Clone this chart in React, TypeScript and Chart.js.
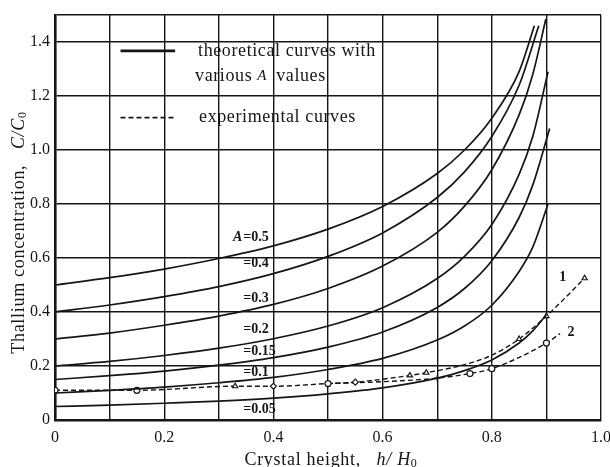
import React, { useEffect, useRef } from 'react';
import { Chart, registerables } from 'chart.js';
Chart.register(...registerables);

// ---- data ----
const theoH = [0, 0.1, 0.2, 0.3, 0.4, 0.5, 0.6, 0.7, 0.75, 0.8, 0.85];
const c05 = [0.5, 0.527, 0.559, 0.598, 0.645, 0.707, 0.791, 0.913, 1.0, 1.118, 1.29];
const c04 = [0.4, 0.426, 0.457, 0.494, 0.542, 0.606, 0.693, 0.824, 0.919, 1.05, 1.24];
const c03 = [0.3, 0.322, 0.351, 0.385, 0.428, 0.487, 0.57, 0.695, 0.792, 0.927, 1.13];
const c02 = [0.2, 0.217, 0.239, 0.266, 0.301, 0.348, 0.416, 0.524, 0.606, 0.724, 0.91];
const c015 = [0.15, 0.164, 0.181, 0.203, 0.231, 0.27, 0.326, 0.417, 0.487, 0.59, 0.75];
const c01 = [0.1, 0.11, 0.122, 0.138, 0.158, 0.187, 0.228, 0.296, 0.348, 0.425, 0.55];
const c005 = [0.05, 0.055, 0.062, 0.07, 0.081, 0.097, 0.119, 0.155, 0.183, 0.222, 0.285];

const tail05H = [0.878];
const tail05C = [1.46];
const tail04H = [0.886];
const tail04C = [1.46];
const tail03H = [0.875, 0.899];
const tail03C = [1.28, 1.485];
const tail02H = [0.875, 0.903];
const tail02C = [1.05, 1.29];
const tail015H = [0.875, 0.906];
const tail015C = [0.87, 1.08];
const tail01H = [0.875, 0.903];
const tail01C = [0.64, 0.8];
const tail005H = [0.875, 0.9];
const tail005C = [0.33, 0.39];

const curveLabels = ['=0.5', '=0.4', '=0.3', '=0.2', '=0.15', '=0.1', '=0.05'];
const curveLabelY = [0.677, 0.581, 0.452, 0.334, 0.253, 0.175, 0.039];
const curveLabelX = 0.345;

const expH1 = [0, 0.15, 0.33, 0.4, 0.5, 0.55, 0.65, 0.68, 0.75, 0.8, 0.85, 0.9, 0.97];
const expC1 = [0.11, 0.11, 0.125, 0.125, 0.135, 0.14, 0.165, 0.175, 0.205, 0.24, 0.3, 0.385, 0.525];
const expMark1 = ['circle', 'circle', 'triangle', 'rectRot', 'circle', 'rectRot', 'triangle', 'triangle', 'circle', 'circle', 'triangle', 'triangle', 'triangle'];
const expShow1 = [1, 1, 1, 1, 1, 1, 1, 1, 0, 0, 1, 1, 1];

const expH2 = [0.5, 0.6, 0.7, 0.76, 0.8, 0.9, 0.925];
const expC2 = [0.135, 0.142, 0.155, 0.172, 0.19, 0.285, 0.32];
const expMark2 = ['circle', 'circle', 'cross', 'circle', 'circle', 'circle', 'circle'];
const expShow2 = [0, 0, 1, 1, 1, 1, 0];

const expLabels = ['1', '2'];
const expLabelH = [0.93, 0.945];
const expLabelC = [0.527, 0.325];

const xTickLabels = ['0', '0.2', '0.4', '0.6', '0.8', '1.0'];
const yTickLabels = ['0', '0.2', '0.4', '0.6', '0.8', '1.0', '1.2', '1.4'];

const SERIF = "'Liberation Serif', 'DejaVu Serif', serif";
const INK = '#161616';

function pts(h: number[], c: number[]) {
  return h.map((v, i) => ({ x: v, y: c[i] }));
}

const theoSeries = [
  [c05, tail05H, tail05C],
  [c04, tail04H, tail04C],
  [c03, tail03H, tail03C],
  [c02, tail02H, tail02C],
  [c015, tail015H, tail015C],
  [c01, tail01H, tail01C],
  [c005, tail005H, tail005C],
] as number[][][];

const overlay = {
  id: 'overlay',
  afterDraw(chart: any) {
    const ctx = chart.ctx as any;
    const xs = chart.scales.x;
    const ys = chart.scales.y;
    const ca = chart.chartArea;
    ctx.save();
    ctx.fillStyle = INK;
    ctx.strokeStyle = INK;

    // curve labels
    ctx.textBaseline = 'middle';
    curveLabels.forEach((t, i) => {
      const px = xs.getPixelForValue(curveLabelX);
      const py = ys.getPixelForValue(curveLabelY[i]);
      ctx.font = `bold 14px ${SERIF}`;
      ctx.textAlign = 'left';
      ctx.fillText(t, px, py);
      if (i === 0) {
        ctx.font = `italic bold 14px ${SERIF}`;
        ctx.textAlign = 'right';
        ctx.fillText('A', px - 1, py);
      }
    });

    // experimental labels
    ctx.font = `bold 14px ${SERIF}`;
    ctx.textAlign = 'center';
    expLabels.forEach((t, i) => {
      ctx.fillText(t, xs.getPixelForValue(expLabelH[i]), ys.getPixelForValue(expLabelC[i]));
    });

    // legend
    const lx0 = xs.getPixelForValue(0.12);
    const lx1 = xs.getPixelForValue(0.22);
    const tx = xs.getPixelForValue(0.262);
    const ly1 = ys.getPixelForValue(1.367);
    const ly2 = ys.getPixelForValue(1.272);
    const ly3 = ys.getPixelForValue(1.12);
    ctx.lineWidth = 2.6;
    ctx.beginPath();
    ctx.moveTo(lx0, ly1);
    ctx.lineTo(lx1, ly1);
    ctx.stroke();
    ctx.lineWidth = 1.8;
    ctx.setLineDash([5, 3]);
    ctx.beginPath();
    ctx.moveTo(lx0, ly3);
    ctx.lineTo(lx1, ly3);
    ctx.stroke();
    ctx.setLineDash([]);
    ctx.textAlign = 'left';
    ctx.letterSpacing = '0.6px';
    ctx.font = `18px ${SERIF}`;
    ctx.fillText('theoretical curves with', tx, ly1);
    let cx = tx - 3;
    ctx.fillText('various ', cx, ly2);
    cx += ctx.measureText('various ').width;
    ctx.font = `italic 15px ${SERIF}`;
    ctx.fillText('A', cx, ly2);
    cx += ctx.measureText('A').width + 4;
    ctx.font = `18px ${SERIF}`;
    ctx.fillText(' values', cx, ly2);
    ctx.fillText('experimental curves', tx + 1, ly3);

    // axis titles with italic parts
    const drawMixed = (parts: [string, string, number][], x: number, y: number) => {
      let total = 0;
      parts.forEach(([t, f]) => {
        ctx.font = f;
        total += ctx.measureText(t).width;
      });
      let p = x - total / 2;
      parts.forEach(([t, f, dy]) => {
        ctx.font = f;
        ctx.fillText(t, p, y + dy);
        p += ctx.measureText(t).width;
      });
    };
    ctx.textAlign = 'left';
    ctx.textBaseline = 'middle';
    ctx.letterSpacing = '0.7px';
    drawMixed(
      [
        ['Crystal height,   ', `18px ${SERIF}`, 0],
        ['h/ H', `italic 18px ${SERIF}`, 0],
        ['0', `12px ${SERIF}`, 4],
      ],
      (ca.left + ca.right) / 2 + 3,
      ca.bottom + 40
    );
    ctx.save();
    ctx.translate(19, (ca.top + ca.bottom) / 2 + 15);
    ctx.rotate(-Math.PI / 2);
    drawMixed(
      [
        ['Thallium concentration,   ', `18px ${SERIF}`, 0],
        ['C/C', `italic 18px ${SERIF}`, 0],
        ['0', `12px ${SERIF}`, 4],
      ],
      0,
      0
    );
    ctx.restore();
    ctx.restore();
  },
};

export default function App() {
  const ref = useRef<HTMLCanvasElement | null>(null);
  useEffect(() => {
    if (!ref.current) return;
    const datasets: any[] = theoSeries.map(([c, th, tc]) => ({
      data: pts(theoH.concat(th), c.concat(tc)),
      borderColor: INK,
      borderWidth: 1.7,
      pointRadius: 0,
      cubicInterpolationMode: 'monotone',
      fill: false,
    }));
    datasets.push({
      data: pts(expH1, expC1),
      borderColor: INK,
      borderWidth: 1.4,
      borderDash: [5, 3],
      pointStyle: expMark1,
      pointRadius: expShow1.map((s) => (s ? 3 : 0)),
      pointBackgroundColor: '#fff',
      pointBorderColor: INK,
      pointBorderWidth: 1.2,
      cubicInterpolationMode: 'monotone',
      fill: false,
    });
    datasets.push({
      data: pts(expH2, expC2),
      borderColor: INK,
      borderWidth: 1.4,
      borderDash: [5, 3],
      pointStyle: expMark2,
      pointRadius: expShow2.map((s) => (s ? 3 : 0)),
      pointBackgroundColor: '#fff',
      pointBorderColor: INK,
      pointBorderWidth: 1.2,
      cubicInterpolationMode: 'monotone',
      fill: false,
    });

    const chart = new Chart(ref.current, {
      type: 'line',
      data: { datasets },
      options: {
        animation: false,
        responsive: false,
        devicePixelRatio: 1,
        layout: { padding: { left: 8, top: 15, right: 9, bottom: 0 } },
        plugins: { legend: { display: false }, tooltip: { enabled: false } },
        scales: {
          x: {
            type: 'linear',
            min: 0,
            max: 1,
            afterFit: (s: any) => {
              s.height = 47;
              s.paddingLeft = 0;
              s.paddingRight = 0;
            },
            ticks: {
              stepSize: 0.1,
              autoSkip: false,
              maxRotation: 0,
              padding: 8,
              color: INK,
              font: { family: SERIF, size: 16 },
              callback: (v: any) => {
                const i = Math.round(Number(v) * 10);
                return i % 2 === 0 ? xTickLabels[i / 2] : '';
              },
            },
            grid: { color: INK, lineWidth: 1.4, drawTicks: false },
            border: { color: INK, width: 2.6 },
          },
          y: {
            type: 'linear',
            min: 0,
            max: 1.5,
            afterFit: (s: any) => {
              s.width = 47;
              s.paddingTop = 0;
              s.paddingBottom = 0;
            },
            ticks: {
              stepSize: 0.2,
              padding: 5,
              color: INK,
              font: { family: SERIF, size: 16 },
              callback: (v: any) => {
                const i = Math.round(Number(v) * 5);
                return Number(v) > 1.45 ? '' : yTickLabels[i] ?? '';
              },
            },
            grid: { color: INK, lineWidth: 1.4, drawTicks: false },
            border: { color: INK, width: 2.6 },
          },
        },
      },
      plugins: [overlay],
    });
    return () => chart.destroy();
  }, []);
  return (
    <div style={{ position: 'absolute', left: 0, top: 0, width: 610, height: 467, background: '#fff' }}>
      <canvas ref={ref} width={610} height={467} />
    </div>
  );
}
